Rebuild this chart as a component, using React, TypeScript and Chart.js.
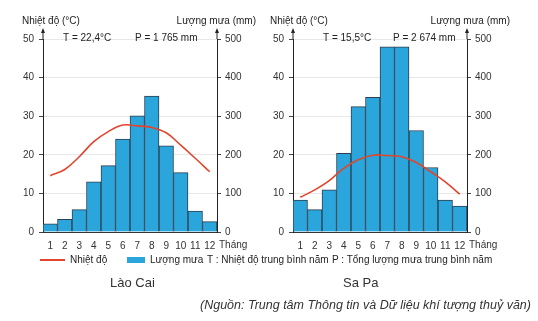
import React, { useEffect, useRef } from "react";
import { Chart, registerables } from "chart.js";

Chart.register(...registerables);

const months = ["1", "2", "3", "4", "5", "6", "7", "8", "9", "10", "11", "12"];
const laoCaiTemp = [14.6, 16.2, 19.5, 23.4, 26.0, 27.7, 27.5, 27.1, 25.7, 22.5, 19.1, 15.6];
const laoCaiRain = [21, 33, 58, 130, 172, 241, 301, 352, 223, 154, 54, 27];
const saPaTemp = [9.0, 10.9, 13.3, 16.5, 18.7, 19.9, 19.8, 19.5, 18.0, 15.6, 13.0, 9.8];
const saPaRain = [83, 58, 109, 204, 325, 349, 480, 480, 263, 167, 83, 67];
const tempTicks = [0, 10, 20, 30, 40, 50];
const rainTicks = [0, 100, 200, 300, 400, 500];

const FONT = "'Liberation Sans', Arial, sans-serif";
const RED = "#e2452b";
const BLUE = "#2aa6dc";

type Panel = {
  temp: number[];
  rain: number[];
  tLabel: string;
  pLabel: string;
  tX: number;
  pX: number;
  leftTitleX: number;
  rightTitleX: number;
};

const W = 288;
const H = 262;

function ClimateChart({ panel }: { panel: Panel }) {
  const ref = useRef<HTMLCanvasElement>(null);
  useEffect(() => {
    const canvas = ref.current!;
    const decor = {
      id: "decor",
      afterDraw(chart: any) {
        const { ctx, chartArea: ca } = chart;
        ctx.save();
        ctx.strokeStyle = "#222";
        ctx.fillStyle = "#222";
        ctx.lineWidth = 1;
        for (const x of [ca.left, ca.right]) {
          ctx.beginPath();
          ctx.moveTo(x, ca.top);
          ctx.lineTo(x, ca.top - 8);
          ctx.stroke();
          ctx.beginPath();
          ctx.moveTo(x, ca.top - 11);
          ctx.lineTo(x - 2, ca.top - 6);
          ctx.lineTo(x + 2, ca.top - 6);
          ctx.closePath();
          ctx.fill();
        }
        ctx.fillStyle = "#222";
        ctx.font = `10px ${FONT}`;
        ctx.textBaseline = "middle";
        ctx.textAlign = "left";
        ctx.fillText("Nhiệt độ (°C)", panel.leftTitleX, 21);
        ctx.textAlign = "right";
        ctx.fillText("Lượng mưa (mm)", panel.rightTitleX, 21);
        ctx.textAlign = "left";
        ctx.fillText(panel.tLabel, panel.tX, 38);
        ctx.fillText(panel.pLabel, panel.pX, 38);
        ctx.fillStyle = "#333";
        ctx.fillText("Tháng", ca.right + 2, 245);
        ctx.restore();
      },
    };
    const chart = new Chart(canvas, {
      type: "bar",
      data: {
        labels: months,
        datasets: [
          {
            type: "line",
            data: panel.temp,
            yAxisID: "yT",
            borderColor: RED,
            borderWidth: 1.6,
            pointRadius: 0,
            tension: 0.4,
            fill: false,
            order: 0,
          } as any,
          {
            type: "bar",
            data: panel.rain,
            yAxisID: "yP",
            backgroundColor: BLUE,
            borderColor: "#2d3e4e",
            borderWidth: 1,
            barPercentage: 1,
            categoryPercentage: 1,
            order: 1,
          },
        ],
      },
      options: {
        responsive: false,
        animation: false,
        devicePixelRatio: 1,
        layout: { padding: { top: 39, left: 0, right: 0, bottom: 0 } },
        plugins: { legend: { display: false }, tooltip: { enabled: false } },
        scales: {
          x: {
            offset: true,
            grid: { display: false, drawTicks: false },
            border: { display: true, color: "#333" },
            ticks: {
              padding: 8,
              color: "#333",
              autoSkip: false,
              maxRotation: 0,
              minRotation: 0,
              font: { family: FONT, size: 10 },
            },
            afterFit: (s: any) => {
              s.height = H - 232;
            },
          },
          yT: {
            position: "left",
            min: 0,
            max: 50,
            afterBuildTicks: (s: any) => {
              s.ticks = tempTicks.map((v) => ({ value: v }));
            },
            grid: { color: "#e8e8e8", tickColor: "#444", tickLength: 4 },
            border: { display: true, color: "#222" },
            ticks: { padding: 5, color: "#333", font: { family: FONT, size: 10 } },
            afterFit: (s: any) => {
              s.width = 43;
            },
          },
          yP: {
            position: "right",
            min: 0,
            max: 500,
            afterBuildTicks: (s: any) => {
              s.ticks = rainTicks.map((v) => ({ value: v }));
            },
            grid: { drawOnChartArea: false, tickColor: "#444", tickLength: 4 },
            border: { display: true, color: "#222" },
            ticks: { padding: 4, color: "#333", font: { family: FONT, size: 10 } },
            afterFit: (s: any) => {
              s.width = W - 217;
            },
          },
        },
      },
      plugins: [decor],
    });
    return () => chart.destroy();
  }, [panel]);
  return <canvas ref={ref} width={W} height={H} style={{ width: W, height: H, display: "block" }} />;
}

const laoCai: Panel = {
  temp: laoCaiTemp,
  rain: laoCaiRain,
  tLabel: "T = 22,4°C",
  pLabel: "P = 1 765 mm",
  tX: 63,
  pX: 135,
  leftTitleX: 22,
  rightTitleX: 256,
};
const saPa: Panel = {
  temp: saPaTemp,
  rain: saPaRain,
  tLabel: "T = 15,5°C",
  pLabel: "P = 2 674 mm",
  tX: 73,
  pX: 143,
  leftTitleX: 20,
  rightTitleX: 260,
};

const txt = (left: number, cy: number, s: string, size = 10, extra: any = {}) => (
  <span
    style={{
      position: "absolute",
      left,
      top: cy - 8,
      lineHeight: "16px",
      fontSize: size,
      fontFamily: FONT,
      color: "#222",
      whiteSpace: "nowrap",
      ...extra,
    }}
  >
    {s}
  </span>
);

export default function App() {
  return (
    <div style={{ position: "fixed", left: 0, top: 0, width: 538, height: 321, background: "#fff", overflow: "hidden" }}>
      <div style={{ position: "absolute", left: 0, top: 0 }}>
        <ClimateChart panel={laoCai} />
      </div>
      <div style={{ position: "absolute", left: 250, top: 0 }}>
        <ClimateChart panel={saPa} />
      </div>
      <div style={{ position: "absolute", left: 40, top: 259, width: 25, height: 1.5, background: RED }} />
      {txt(70, 260, "Nhiệt độ")}
      <div style={{ position: "absolute", left: 127, top: 257, width: 18, height: 6, background: BLUE }} />
      {txt(150, 260, "Lượng mưa")}
      {txt(207, 260, "T : Nhiệt độ trung bình năm")}
      {txt(332, 260, "P : Tổng lượng mưa trung bình năm")}
      {txt(110, 283, "Lào Cai", 13, { color: "#333" })}
      {txt(343, 283, "Sa Pa", 13, { color: "#333" })}
      {txt(200, 305, "(Nguồn: Trung tâm Thông tin và Dữ liệu khí tượng thuỷ văn)", 12.5, { color: "#333", fontStyle: "italic" })}
    </div>
  );
}
